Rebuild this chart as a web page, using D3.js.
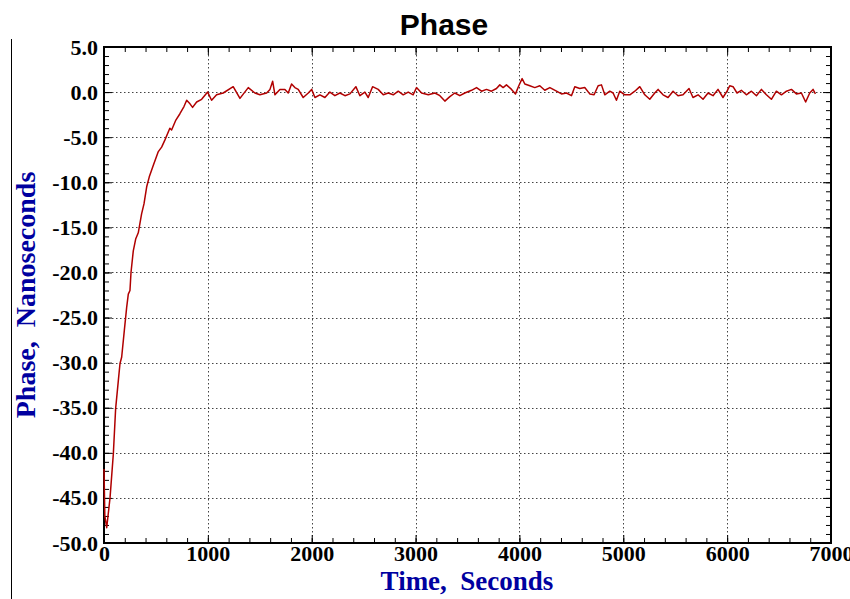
<!DOCTYPE html>
<html>
<head>
<meta charset="utf-8">
<script src="https://cdn.jsdelivr.net/npm/d3@7/dist/d3.min.js"></script>
<style>
  body { margin: 0; background: #fff; }
  svg { display: block; }
</style>
</head>
<body>
<div id="chart"></div>
<script>
// Time (seconds) and phase (ns)
var timeSec = [
  0, 8, 26, 58, 90, 112, 138, 154, 170, 196, 218, 234, 250, 260, 282, 305, 330, 362, 385, 411,
  436, 475, 523, 555, 587, 634, 651, 692, 731, 770, 796, 828, 853, 892, 940, 998, 1036, 1084, 1148, 1244,
  1309, 1389, 1453, 1501, 1566, 1598, 1624, 1646, 1694, 1742, 1774, 1806, 1838, 1870, 1918, 1967, 1999, 2031, 2079, 2127,
  2175, 2223, 2271, 2320, 2368, 2425, 2464, 2512, 2544, 2586, 2640, 2689, 2737, 2785, 2833, 2881, 2929, 2977, 3009, 3058,
  3122, 3186, 3234, 3282, 3330, 3378, 3426, 3474, 3539, 3587, 3635, 3683, 3731, 3779, 3811, 3843, 3875, 3924, 3962, 3994,
  4026, 4052, 4100, 4148, 4196, 4244, 4293, 4357, 4405, 4453, 4501, 4533, 4581, 4629, 4677, 4719, 4758, 4790, 4822, 4870,
  4902, 4934, 4966, 5014, 5063, 5111, 5159, 5207, 5255, 5303, 5335, 5383, 5431, 5479, 5527, 5575, 5633, 5671, 5720, 5768,
  5816, 5864, 5912, 5960, 5999, 6025, 6057, 6095, 6137, 6185, 6234, 6282, 6330, 6378, 6426, 6474, 6523, 6571, 6619, 6667,
  6715, 6756, 6795, 6827, 6850
];
var phaseNs = [
  -41.8, -47.0, -48.3, -45.0, -40.1, -35.1, -32.0, -30.1, -29.4, -26.4, -23.9, -22.4, -22.0, -20.0, -17.6, -16.3, -15.6, -13.5, -12.4, -10.5,
  -9.4, -8.1, -6.6, -6.1, -5.3, -4.0, -4.2, -3.1, -2.4, -1.6, -0.9, -1.3, -1.7, -1.1, -0.8, 0.0, -0.9, -0.3, -0.1, 0.6,
  -0.7, 0.5, -0.1, -0.3, -0.1, 0.3, 1.2, -0.3, 0.3, 0.3, -0.1, 0.9, 0.5, 0.3, -0.6, -0.1, 0.3, -0.6, -0.3, -0.6,
  0.0, -0.4, -0.1, -0.4, -0.2, 0.6, -0.4, 0.0, -0.6, 0.6, 0.3, -0.3, -0.1, -0.3, 0.1, -0.3, 0.0, -0.3, 0.5, -0.1,
  -0.3, -0.1, -0.4, -1.0, -0.5, -0.1, -0.4, -0.1, 0.2, 0.5, 0.1, 0.3, 0.1, 0.4, 0.8, 0.5, 0.8, 0.3, -0.2, 0.7,
  1.5, 0.9, 0.7, 0.5, 0.7, 0.2, 0.5, 0.1, -0.2, -0.1, -0.4, 0.6, 0.4, 0.5, -0.2, -0.3, 0.7, 0.8, -0.3, 0.1,
  -0.1, -0.9, 0.1, -0.3, -0.3, 0.1, 0.6, -0.3, -0.8, -0.1, 0.3, -0.3, -0.6, 0.1, -0.4, -0.3, 0.4, -0.6, -0.3, -0.8,
  -0.1, -0.4, 0.3, -0.6, 0.1, 0.7, 0.6, -0.1, 0.2, -0.3, 0.1, -0.4, 0.3, -0.3, -0.8, 0.1, -0.3, 0.1, 0.3, -0.2,
  -0.1, -1.1, -0.1, 0.3, -0.2
];

var xTicks = [0, 1000, 2000, 3000, 4000, 5000, 6000, 7000];
var yTicks = [-50, -45, -40, -35, -30, -25, -20, -15, -10, -5, 0, 5];

function init() {
    var w = 850;
    var h = 599;
    var left = 104, right = 831, top = 47, bottom = 543;

    var data = timeSec.map(function(t, i) { return { t: t, v: phaseNs[i] }; });

    var xScale = d3.scaleLinear().domain([0, 7000]).range([left, right]);
    var yScale = d3.scaleLinear().domain([-50, 5]).range([bottom, top]);

    var svg = d3.select("#chart")
        .append("svg")
        .attr("width", w)
        .attr("height", h);

    // left border line
    svg.append("line")
        .attr("x1", 11.5).attr("x2", 11.5)
        .attr("y1", 39).attr("y2", h)
        .attr("stroke", "#000")
        .attr("stroke-width", 1);

    // title
    svg.append("text")
        .attr("x", 444)
        .attr("y", 35)
        .attr("text-anchor", "middle")
        .style("font-family", "'Liberation Sans', Arial, sans-serif")
        .style("font-weight", "bold")
        .style("font-size", "30px")
        .text("Phase");

    // grid
    var grid = svg.append("g")
        .attr("stroke", "#444")
        .attr("stroke-width", 1)
        .attr("stroke-dasharray", "1.5,2.5");

    grid.selectAll("line.vg")
        .data(xTicks.slice(1, -1))
        .enter().append("line")
        .attr("class", "vg")
        .attr("x1", function(d) { return Math.round(xScale(d)) + 0.5; })
        .attr("x2", function(d) { return Math.round(xScale(d)) + 0.5; })
        .attr("y1", top)
        .attr("y2", bottom);

    grid.selectAll("line.hg")
        .data(yTicks.slice(1, -1))
        .enter().append("line")
        .attr("class", "hg")
        .attr("x1", left)
        .attr("x2", right)
        .attr("y1", function(d) { return Math.round(yScale(d)) + 0.5; })
        .attr("y2", function(d) { return Math.round(yScale(d)) + 0.5; });

    // axes with inside ticks
    var xMinor = d3.range(0, 7001, 200);
    var yMinor = d3.range(-50, 5.01, 1);

    var tickFont = function(sel) {
        sel.selectAll("text")
            .style("font-family", "'Liberation Serif', 'Times New Roman', serif")
            .style("font-weight", "bold")
            .style("font-size", "22px")
            .attr("fill", "#000");
        sel.select(".domain").remove();
        sel.selectAll(".tick line").attr("stroke", "#000").attr("stroke-width", 1);
    };

    // bottom
    svg.append("g")
        .attr("transform", "translate(0," + bottom + ")")
        .call(d3.axisBottom(xScale).tickValues(xMinor).tickSize(-5).tickFormat(""))
        .call(tickFont);
    svg.append("g")
        .attr("transform", "translate(0," + bottom + ")")
        .call(d3.axisBottom(xScale).tickValues(xTicks).tickSize(-8).tickPadding(2)
            .tickFormat(function(d) { return d; }))
        .call(tickFont);
    // top
    svg.append("g")
        .attr("transform", "translate(0," + top + ")")
        .call(d3.axisTop(xScale).tickValues(xMinor).tickSize(-5).tickFormat(""))
        .call(tickFont);
    svg.append("g")
        .attr("transform", "translate(0," + top + ")")
        .call(d3.axisTop(xScale).tickValues(xTicks).tickSize(-8).tickFormat(""))
        .call(tickFont);
    // left
    svg.append("g")
        .attr("transform", "translate(" + left + ",0)")
        .call(d3.axisLeft(yScale).tickValues(yMinor).tickSize(-5).tickFormat(""))
        .call(tickFont);
    svg.append("g")
        .attr("transform", "translate(" + left + ",0)")
        .call(d3.axisLeft(yScale).tickValues(yTicks).tickSize(-8).tickPadding(6)
            .tickFormat(function(d) { return d.toFixed(1); }))
        .call(tickFont);
    // right
    svg.append("g")
        .attr("transform", "translate(" + right + ",0)")
        .call(d3.axisRight(yScale).tickValues(yMinor).tickSize(-5).tickFormat(""))
        .call(tickFont);
    svg.append("g")
        .attr("transform", "translate(" + right + ",0)")
        .call(d3.axisRight(yScale).tickValues(yTicks).tickSize(-8).tickFormat(""))
        .call(tickFont);

    // frame
    svg.append("rect")
        .attr("x", left)
        .attr("y", top)
        .attr("width", right - left)
        .attr("height", bottom - top)
        .attr("fill", "none")
        .attr("stroke", "#000")
        .attr("stroke-width", 2);

    // the phase line
    var line = d3.line()
        .x(function(d) { return xScale(d.t); })
        .y(function(d) { return yScale(d.v); });

    svg.append("path")
        .datum(data)
        .attr("d", line)
        .attr("fill", "none")
        .attr("stroke", "#b00000")
        .attr("stroke-width", 1.5)
        .attr("stroke-linejoin", "round");

    // axis labels
    svg.append("text")
        .attr("x", 467)
        .attr("y", 590)
        .attr("text-anchor", "middle")
        .attr("fill", "#0000a0")
        .style("font-family", "'Liberation Serif', 'Times New Roman', serif")
        .style("font-weight", "bold")
        .style("font-size", "27px")
        .style("white-space", "pre")
        .text("Time,  Seconds");

    svg.append("text")
        .attr("transform", "translate(35,295) rotate(-90)")
        .attr("text-anchor", "middle")
        .attr("fill", "#0000a0")
        .style("font-family", "'Liberation Serif', 'Times New Roman', serif")
        .style("font-weight", "bold")
        .style("font-size", "28px")
        .style("white-space", "pre")
        .text("Phase,  Nanoseconds");
}

window.onload = init;
</script>
</body>
</html>
